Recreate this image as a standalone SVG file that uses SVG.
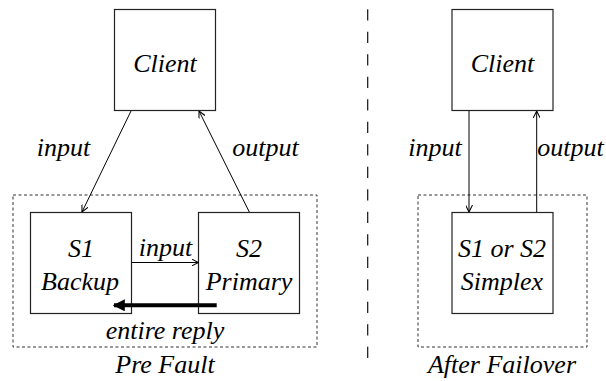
<svg xmlns="http://www.w3.org/2000/svg" width="606" height="381" viewBox="0 0 606 381">
<rect width="606" height="381" fill="#fff"/>
<defs>
<marker id="open" viewBox="0 0 10 10" refX="10" refY="5" markerWidth="7" markerHeight="7" markerUnits="userSpaceOnUse" orient="auto">
<path d="M0,0 L10,5 L0,10" fill="none" stroke="#000" stroke-width="1.5"/>
</marker>
<marker id="solid" viewBox="0 0 10 10" refX="9" refY="5" markerWidth="12" markerHeight="12" markerUnits="userSpaceOnUse" orient="auto">
<path d="M0,0 L10,5 L0,10 Z" fill="#000"/>
</marker>
</defs>
<rect id="group-prefault" x="13" y="195" width="304" height="152" fill="none" stroke="#333" stroke-width="1" stroke-dasharray="3 2.5"/>
<rect id="group-after" x="418" y="195" width="169" height="152" fill="none" stroke="#333" stroke-width="1" stroke-dasharray="3 2.5"/>
<line id="divider" x1="367.7" y1="9.3" x2="367.7" y2="361" stroke="#111" stroke-width="1.2" stroke-dasharray="11.3 11.2"/>
<g id="client-left"><rect x="114.5" y="9.5" width="101" height="101" fill="#fff" stroke="#222" stroke-width="1.2"/><text x="165" y="72" font-family="Liberation Serif" font-style="italic" font-size="26" text-anchor="middle">Client</text></g>
<g id="s1"><rect x="30.5" y="212.5" width="101" height="101" fill="#fff" stroke="#222" stroke-width="1.2"/><text x="81" y="257" font-family="Liberation Serif" font-style="italic" font-size="26" text-anchor="middle">S1</text><text x="80" y="290" font-family="Liberation Serif" font-style="italic" font-size="26" text-anchor="middle">Backup</text></g>
<g id="s2"><rect x="198.5" y="212.5" width="101" height="101" fill="#fff" stroke="#222" stroke-width="1.2"/><text x="249" y="257" font-family="Liberation Serif" font-style="italic" font-size="26" text-anchor="middle">S2</text><text x="249" y="290" font-family="Liberation Serif" font-style="italic" font-size="26" text-anchor="middle">Primary</text></g>
<g id="client-right"><rect x="452" y="9.5" width="101" height="101" fill="#fff" stroke="#222" stroke-width="1.2"/><text x="502.5" y="72" font-family="Liberation Serif" font-style="italic" font-size="26" text-anchor="middle">Client</text></g>
<g id="simplex"><rect x="452" y="212.5" width="101" height="101" fill="#fff" stroke="#222" stroke-width="1.2"/><text x="502" y="257" font-family="Liberation Serif" font-style="italic" font-size="26" text-anchor="middle">S1 or S2</text><text x="502" y="290" font-family="Liberation Serif" font-style="italic" font-size="26" text-anchor="middle">Simplex</text></g>
<g id="connectors" fill="none" stroke="#000" stroke-width="1">
<line x1="131" y1="111" x2="82" y2="212" marker-end="url(#open)"/>
<line x1="249.3" y1="212" x2="199" y2="111" marker-end="url(#open)"/>
<line x1="131.5" y1="262.5" x2="198.5" y2="262.5" marker-end="url(#open)"/>
<line x1="216.7" y1="305.3" x2="114" y2="305.3" stroke-width="4" marker-end="url(#solid)"/>
<line x1="469" y1="111" x2="469" y2="212" marker-end="url(#open)"/>
<line x1="536.7" y1="212" x2="536.7" y2="111" marker-end="url(#open)"/>
</g>
<g id="labels">
<text x="63.5" y="156" font-family="Liberation Serif" font-style="italic" font-size="26" text-anchor="middle">input</text>
<text x="265.5" y="156" font-family="Liberation Serif" font-style="italic" font-size="26" text-anchor="middle">output</text>
<text x="165.5" y="256" font-family="Liberation Serif" font-style="italic" font-size="26" text-anchor="middle">input</text>
<text x="165" y="339" font-family="Liberation Serif" font-style="italic" font-size="26" text-anchor="middle">entire reply</text>
<text x="165" y="373" font-family="Liberation Serif" font-style="italic" font-size="26" text-anchor="middle">Pre Fault</text>
<text x="435" y="156" font-family="Liberation Serif" font-style="italic" font-size="26" text-anchor="middle">input</text>
<text x="570.5" y="156" font-family="Liberation Serif" font-style="italic" font-size="26" text-anchor="middle">output</text>
<text x="502" y="373" font-family="Liberation Serif" font-style="italic" font-size="26" text-anchor="middle">After Failover</text>
</g>
</svg>
